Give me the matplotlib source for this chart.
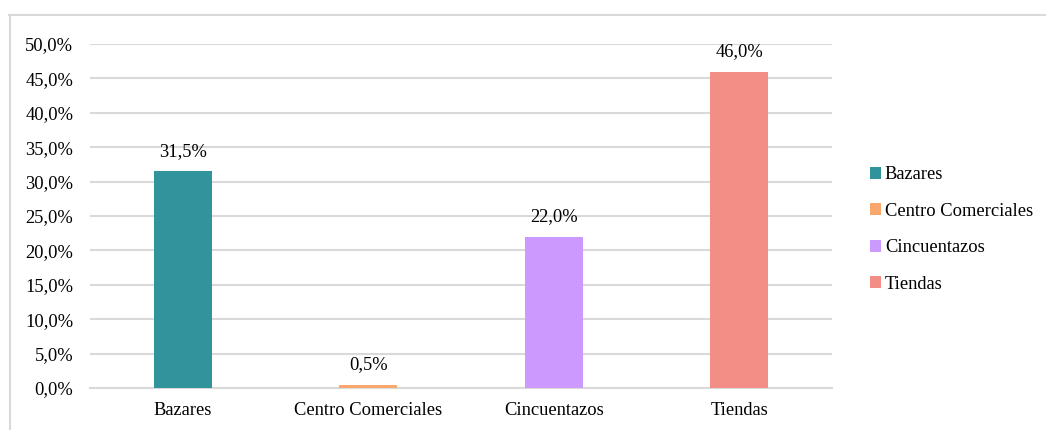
import matplotlib.pyplot as plt
from matplotlib.patches import Patch
from matplotlib.lines import Line2D
from matplotlib.ticker import FuncFormatter

categories = ["Bazares", "Centro Comerciales", "Cincuentazos", "Tiendas"]
values = [31.5, 0.5, 22.0, 46.0]
colors = ["#31939B", "#F9A76C", "#CC99FF", "#F28E86"]

plt.rcParams['font.family'] = ['Liberation Serif', 'DejaVu Serif']
fs = 13.3

fig = plt.figure(figsize=(10.46, 4.30), dpi=100)
ax = fig.add_axes([90 / 1046, 1 - 388 / 430, (832 - 90) / 1046, (388 - 44) / 430])

x = range(len(categories))
ax.bar(x, values, width=0.31, color=colors, zorder=3)

for xi, v in zip(x, values):
    ax.annotate(f"{v:.1f}%".replace(".", ","), (xi, v), xytext=(0, 8),
                textcoords="offset points", ha="center", va="bottom",
                fontsize=fs, color="#000000")

ax.set_ylim(0, 50)
ax.set_xlim(-0.5, len(categories) - 0.5)
ax.set_yticks(range(0, 51, 5))
ax.yaxis.set_major_formatter(FuncFormatter(lambda v, p: f"{v:.1f}%".replace(".", ",")))
ax.set_xticks(list(x))
ax.set_xticklabels(categories)
ax.tick_params(axis="both", length=0, labelsize=fs, colors="#000000")
ax.tick_params(axis="y", pad=12)
ax.tick_params(axis="x", pad=10)
ax.grid(axis="y", color="#D9D9D9", linewidth=1.5, zorder=0)
for side in ["top", "right", "left"]:
    ax.spines[side].set_visible(False)
ax.spines["bottom"].set_color("#D9D9D9")
ax.spines["bottom"].set_linewidth(1.5)

handles = [Patch(facecolor=c, label=l) for c, l in zip(colors, categories)]
fig.legend(handles=handles, loc="center left", bbox_to_anchor=(870 / 1046, 1 - 229.5 / 430),
           frameon=False, fontsize=fs, handlelength=0.6, handleheight=0.6,
           handletextpad=0.2, labelspacing=1.05, borderpad=0, borderaxespad=0)

# outer chart border (only top and left visible)
fig.add_artist(Line2D([9 / 1046, 1.0], [1 - 14.5 / 430] * 2, color="#D9D9D9", linewidth=1.5))
fig.add_artist(Line2D([9.5 / 1046] * 2, [0.0, 1 - 14.5 / 430], color="#D9D9D9", linewidth=1.5))

fig.savefig("out.png", dpi=100)
